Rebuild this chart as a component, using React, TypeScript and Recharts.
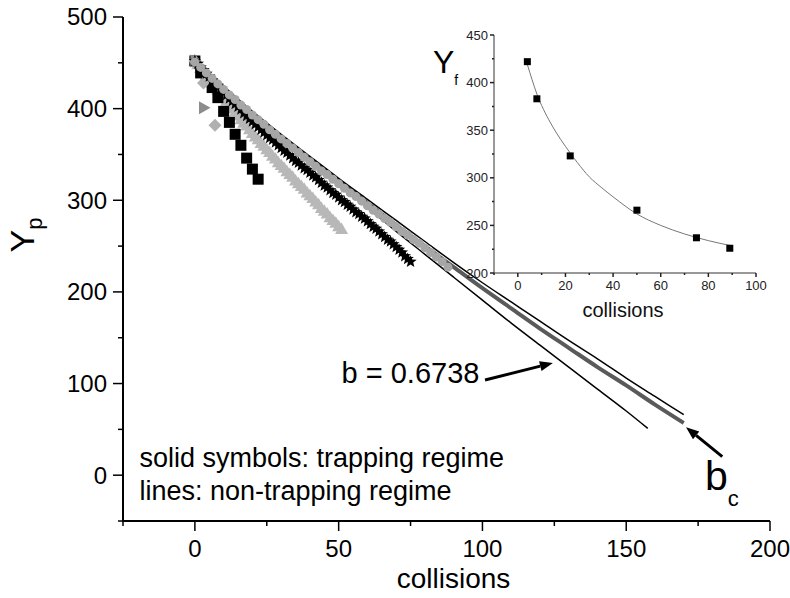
import React from 'react';
import { ComposedChart, Line, Scatter, XAxis, YAxis, ReferenceDot, ReferenceLine } from 'recharts';

const FONT = '"Liberation Sans", Arial, Helvetica, sans-serif';

// ---- main panel: Y_p against collisions ----
// trapping regime, one symbol per collision (index = collisions)
const starsY = [
  452, 449, 445, 442, 438, 435, 431, 428, 425, 421,
  418, 415, 411, 408, 405, 402, 399, 395, 392, 389,
  386, 383, 380, 377, 374, 371, 368, 366, 363, 360,
  357, 354, 352, 349, 346, 343, 341, 338, 335, 333,
  330, 327, 325, 322, 319, 316, 314, 311, 308, 306,
  303, 300, 298, 295, 293, 290, 287, 285, 282, 280,
  277, 274, 271, 269, 266, 263, 260, 257, 255, 252,
  249, 246, 243, 239, 236, 233,
];
const grayTriY = [
  452, 448, 444, 440, 436, 432, 428, 424, 420, 416,
  412, 408, 404, 400, 396, 392, 388, 384, 381, 377,
  373, 369, 366, 362, 359, 355, 352, 348, 345, 341,
  338, 335, 331, 328, 325, 321, 318, 315, 312, 308,
  305, 302, 298, 295, 291, 288, 285, 281, 278, 275,
  271, 268,
];
// one symbol every 2 collisions
const bandY = [
  451, 445, 439, 433, 427, 421, 415, 410, 404, 399,
  393, 388, 383, 377, 372, 367, 362, 357, 352, 347,
  342, 337, 332, 328, 323, 318, 313, 308, 304, 299,
  294, 289, 285, 280, 276, 271, 266, 262, 257, 253,
  248, 243, 238, 233, 227,
];
const squaresX = [0, 2, 4, 6, 8, 10, 12, 14, 16, 18, 20, 22];
const squaresY = [452, 439, 431, 423, 412, 397, 385, 372, 360, 346, 334, 323];
const diamondX = [0, 3, 7];
const diamondY = [452, 428, 382];
const rightTriX = [0, 3];
const rightTriY = [452, 401];

// non-trapping regime
const lineX = [0, 10, 20, 30, 40, 50, 60, 70, 80, 90, 100, 110, 120, 130, 140, 150, 160, 170];
const upperY = [452, 424, 397, 372, 348, 324, 301, 278, 255, 232, 210, 189, 168, 147, 127, 106, 86, 66];
const middleY = [452, 423, 395, 369, 345, 321, 297, 273, 250, 227, 204, 182, 160, 139, 118, 98, 77, 57];
const lowerX = [0, 10, 20, 30, 40, 50, 60, 70, 80, 90, 100, 110, 120, 130, 140, 150, 157.5];
const lowerY = [452, 423, 395, 368, 342, 317, 292, 266, 241, 216, 191, 166, 142, 118, 94, 70, 51];

// ---- inset: Y_f against collisions ----
const fCollisions = [4, 8, 22, 50, 75, 89];
const fValues = [422, 383, 323, 266, 237, 226];
const fitX = [4, 6, 8, 10, 13, 16, 20, 25, 30, 35, 40, 50, 60, 70, 80, 89];
const fitY = [419, 403, 388, 376, 361, 348, 333, 316, 301, 290, 280, 262, 250, 241, 234, 229];

// ticks
const xTicks = [-25, 0, 25, 50, 75, 100, 125, 150, 175, 200];
const xMajor = [0, 50, 100, 150, 200];
const yTicks = [-50, 0, 50, 100, 150, 200, 250, 300, 350, 400, 450, 500];
const yMajor = [0, 100, 200, 300, 400, 500];
const insetXTicks = [-10, 0, 10, 20, 30, 40, 50, 60, 70, 80, 90, 100];
const insetXMajor = [0, 20, 40, 60, 80, 100];
const insetYTicks = [200, 225, 250, 275, 300, 325, 350, 375, 400, 425, 450];
const insetYMajor = [200, 250, 300, 350, 400, 450];

const pts = (xs: number[], ys: number[]) => xs.map((x, i) => ({ x, y: ys[i] }));
const seq = (ys: number[], step: number) => ys.map((y, i) => ({ x: i * step, y }));

type Side = 'bottom' | 'left' | 'top' | 'right';
function tickMaker(side: Side, majors: number[], major: number, minor: number, font: number, gap: number, labels: boolean, color: string) {
  return (p: any) => {
    const { x, y, payload } = p;
    const v = payload.value as number;
    const isMajor = majors.includes(v);
    const len = isMajor ? major : minor;
    let x2 = x;
    let y2 = y;
    if (side === 'bottom' || side === 'top') y2 = y + len;
    if (side === 'left') x2 = x - len;
    if (side === 'right') x2 = x + len;
    let label = null;
    if (labels && isMajor && side === 'bottom')
      label = <text x={x} y={y + gap} textAnchor="middle" fontSize={font} fontFamily={FONT} fill={color}>{v}</text>;
    if (labels && isMajor && side === 'left')
      label = <text x={x - gap} y={y + font * 0.35} textAnchor="end" fontSize={font} fontFamily={FONT} fill={color}>{v}</text>;
    return (
      <g>
        <line x1={x} y1={y} x2={x2} y2={y2} stroke={color} strokeWidth={side === 'bottom' || side === 'left' ? 1.5 : 1} />
        {label}
      </g>
    );
  };
}

const Square = (p: any) => <rect x={p.cx - 5.5} y={p.cy - 5.5} width={11} height={11} fill="#000" />;
const InsetSquare = (p: any) => <rect x={p.cx - 3.5} y={p.cy - 3.5} width={7} height={7} fill="#000" />;
const TriUp = (p: any) => (
  <polygon points={`${p.cx},${p.cy - 7} ${p.cx - 6.5},${p.cy + 4.5} ${p.cx + 6.5},${p.cy + 4.5}`} fill="#b8b8b8" />
);
const TriRight = (p: any) => (
  <polygon points={`${p.cx + 7},${p.cy} ${p.cx - 4.5},${p.cy - 6.5} ${p.cx - 4.5},${p.cy + 6.5}`} fill="#8c8c8c" />
);
const Diamond = (p: any) => (
  <polygon points={`${p.cx},${p.cy - 6.5} ${p.cx + 6.5},${p.cy} ${p.cx},${p.cy + 6.5} ${p.cx - 6.5},${p.cy}`} fill="#b0b0b0" />
);
const Dot = (p: any) => <circle cx={p.cx} cy={p.cy} r={4.5} fill="#a6a6a6" />;
const Star = (p: any) => {
  const s: string[] = [];
  for (let k = 0; k < 10; k++) {
    const a = -Math.PI / 2 + (k * Math.PI) / 5;
    const r = k % 2 ? 2.8 : 6.5;
    s.push(`${p.cx + r * Math.cos(a)},${p.cy + r * Math.sin(a)}`);
  }
  return <polygon points={s.join(' ')} fill="#000" />;
};

const Arrow = (p: any) => {
  const { x1, y1, x2, y2 } = p;
  const dx = x2 - x1;
  const dy = y2 - y1;
  const L = Math.hypot(dx, dy) || 1;
  const ux = dx / L;
  const uy = dy / L;
  const bx = x2 - ux * 13;
  const by = y2 - uy * 13;
  return (
    <g>
      <line x1={x1} y1={y1} x2={bx} y2={by} stroke="#000" strokeWidth={3} />
      <polygon points={`${x2},${y2} ${bx - uy * 5},${by + ux * 5} ${bx + uy * 5},${by - ux * 5}`} fill="#000" />
    </g>
  );
};

const textAt = (value: string, size: number) => (p: any) => {
  const vb = p.viewBox || {};
  return (
    <text x={vb.x} y={vb.y} fontSize={size} fontFamily={FONT} fill="#000">{value}</text>
  );
};

const bcLabel = (p: any) => {
  const vb = p.viewBox || {};
  return (
    <text x={vb.x} y={vb.y} fontSize={41} fontFamily={FONT} fill="#000">
      <tspan>b</tspan>
      <tspan fontSize={22} dy={16}>c</tspan>
    </text>
  );
};

const ypLabel = (p: any) => {
  const vb = p.viewBox;
  const cx = vb.x + 34;
  const cy = vb.y + vb.height / 2 - 34;
  return (
    <text transform={`rotate(-90 ${cx} ${cy})`} x={cx} y={cy} textAnchor="middle" fontSize={34} fontFamily={FONT} fill="#000">
      <tspan>Y</tspan>
      <tspan fontSize={22} dy={8}>p</tspan>
    </text>
  );
};

const mainXLabel = (p: any) => {
  const vb = p.viewBox;
  return (
    <text x={vb.x + vb.width / 2 + 7} y={vb.y + 67} textAnchor="middle" fontSize={28} fontFamily={FONT} fill="#000">collisions</text>
  );
};

const yfLabel = (p: any) => {
  const vb = p.viewBox;
  return (
    <text x={vb.x + 33} y={vb.y + 38} fontSize={32} fontFamily={FONT} fill="#000">
      <tspan>Y</tspan>
      <tspan fontSize={14} dy={12}>f</tspan>
    </text>
  );
};

const insetXLabel = (p: any) => {
  const vb = p.viewBox;
  return (
    <text x={vb.x + vb.width / 2 - 2} y={vb.y + 44} textAnchor="middle" fontSize={20} fontFamily={FONT} fill="#111">collisions</text>
  );
};

export default function App() {
  const axisMain = { stroke: '#000', strokeWidth: 2 };
  const axisInset = { stroke: '#333', strokeWidth: 1 };
  return (
    <div style={{ position: 'absolute', left: 0, top: 0, width: 790, height: 598, background: '#fff', fontFamily: FONT }}>
      <div style={{ position: 'absolute', left: 0, top: 0 }}>
        <ComposedChart width={790} height={598} margin={{ top: 17, right: 20, bottom: 0, left: 0 }}>
          <XAxis
            type="number"
            dataKey="x"
            domain={[-25, 200]}
            ticks={xTicks}
            interval={0}
            height={77}
            tickSize={0}
            tickMargin={0}
            tickLine={false}
            axisLine={axisMain}
            tick={tickMaker('bottom', xMajor, 10, 5, 24, 36, true, '#000')}
            label={mainXLabel}
          />
          <XAxis
            xAxisId="top"
            orientation="top"
            type="number"
            domain={[-25, 200]}
            ticks={xTicks}
            interval={0}
            height={0}
            tickSize={0}
            tickMargin={0}
            tickLine={false}
            axisLine={axisMain}
            tick={tickMaker('top', xMajor, 5, 3, 0, 0, false, '#000')}
          />
          <YAxis
            type="number"
            dataKey="y"
            domain={[-50, 500]}
            ticks={yTicks}
            interval={0}
            width={123}
            tickSize={0}
            tickMargin={0}
            tickLine={false}
            axisLine={axisMain}
            tick={tickMaker('left', yMajor, 10, 5, 24, 16, true, '#000')}
            label={ypLabel}
          />
          <YAxis
            yAxisId="right"
            orientation="right"
            type="number"
            domain={[-50, 500]}
            ticks={yTicks}
            interval={0}
            width={0}
            tickSize={0}
            tickMargin={0}
            tickLine={false}
            axisLine={axisMain}
            tick={tickMaker('right', yMajor, 4, 3, 0, 0, false, '#000')}
          />
          <Scatter data={seq(grayTriY, 1)} shape={TriUp} isAnimationActive={false} />
          <Scatter data={pts(squaresX, squaresY)} shape={Square} isAnimationActive={false} />
          <Scatter data={pts(diamondX, diamondY)} shape={Diamond} isAnimationActive={false} />
          <Scatter data={pts(rightTriX, rightTriY)} shape={TriRight} isAnimationActive={false} />
          <Scatter data={seq(starsY, 1)} shape={Star} isAnimationActive={false} />
          <Line data={pts(lowerX, lowerY)} dataKey="y" type="monotone" stroke="#000" strokeWidth={1.5} dot={false} activeDot={false} isAnimationActive={false} />
          <Scatter data={seq(bandY, 2)} shape={Dot} isAnimationActive={false} />
          <Line data={pts(lineX, middleY)} dataKey="y" type="monotone" stroke="#5a5a5a" strokeWidth={4} dot={false} activeDot={false} isAnimationActive={false} />
          <Line data={pts(lineX, upperY)} dataKey="y" type="monotone" stroke="#000" strokeWidth={1.5} dot={false} activeDot={false} isAnimationActive={false} />

          <ReferenceLine segment={[{ x: 100.9, y: 103.9 }, { x: 124.5, y: 122.4 }]} shape={Arrow} />
          <ReferenceLine segment={[{ x: 183.4, y: 20.2 }, { x: 170.8, y: 52.3 }]} shape={Arrow} />
          <ReferenceDot x={51} y={100.3} r={0} stroke="none" fill="none" label={textAt('b = 0.6738', 29)} />
          <ReferenceDot x={177.4} y={-16.2} r={0} stroke="none" fill="none" label={bcLabel} />
          <ReferenceDot x={-19.3} y={9.3} r={0} stroke="none" fill="none" label={textAt('solid symbols: trapping regime', 27)} />
          <ReferenceDot x={-19.3} y={-27.1} r={0} stroke="none" fill="none" label={textAt('lines: non-trapping regime', 27)} />
        </ComposedChart>
      </div>

      <div style={{ position: 'absolute', left: 400, top: 0 }}>
        <ComposedChart width={380} height={340} margin={{ top: 35, right: 24, bottom: 0, left: 0 }}>
          <XAxis
            type="number"
            dataKey="x"
            domain={[-10, 100]}
            ticks={insetXTicks}
            interval={0}
            height={67}
            tickSize={0}
            tickMargin={0}
            tickLine={false}
            axisLine={axisInset}
            tick={tickMaker('bottom', insetXMajor, 4, 2, 13, 17, true, '#222')}
            label={insetXLabel}
          />
          <XAxis
            xAxisId="top"
            orientation="top"
            type="number"
            domain={[-10, 100]}
            ticks={insetXTicks}
            interval={0}
            height={0}
            tickSize={0}
            tickMargin={0}
            tickLine={false}
            axisLine={axisInset}
            tick={tickMaker('top', insetXMajor, 3, 2, 0, 0, false, '#333')}
          />
          <YAxis
            type="number"
            dataKey="y"
            domain={[200, 450]}
            ticks={insetYTicks}
            interval={0}
            width={94}
            tickSize={0}
            tickMargin={0}
            tickLine={false}
            axisLine={axisInset}
            tick={tickMaker('left', insetYMajor, 4, 2, 13, 6, true, '#222')}
            label={yfLabel}
          />
          <YAxis
            yAxisId="right"
            orientation="right"
            type="number"
            domain={[200, 450]}
            ticks={insetYTicks}
            interval={0}
            width={0}
            tickSize={0}
            tickMargin={0}
            tickLine={false}
            axisLine={axisInset}
            tick={(p: any) => <line x1={p.x} y1={p.y} x2={p.x - 3} y2={p.y} stroke="#333" strokeWidth={1} />}
          />
          <Line data={pts(fitX, fitY)} dataKey="y" type="monotone" stroke="#777" strokeWidth={1} dot={false} activeDot={false} isAnimationActive={false} />
          <Scatter data={pts(fCollisions, fValues)} shape={InsetSquare} isAnimationActive={false} />
        </ComposedChart>
      </div>
    </div>
  );
}
